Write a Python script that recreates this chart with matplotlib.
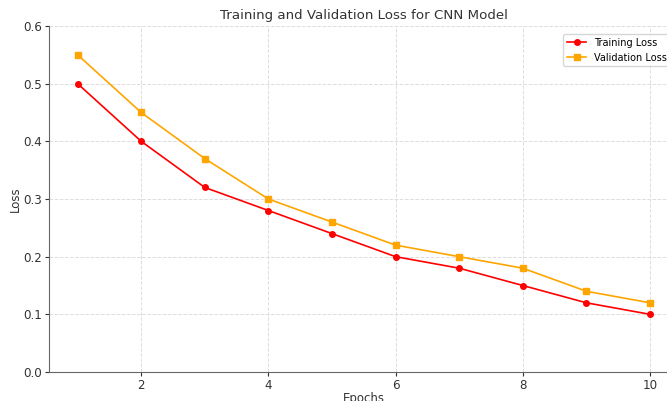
import matplotlib
matplotlib.use("Agg")
import matplotlib.pyplot as plt

epochs = [1, 2, 3, 4, 5, 6, 7, 8, 9, 10]
training_loss = [0.50, 0.40, 0.32, 0.28, 0.24, 0.20, 0.18, 0.15, 0.12, 0.10]
validation_loss = [0.55, 0.45, 0.37, 0.30, 0.26, 0.22, 0.20, 0.18, 0.14, 0.12]

fig = plt.figure(figsize=(6.67, 4.01), dpi=100)
# axes run slightly past the right edge, as in the reference crop
ax = fig.add_axes([49 / 667, 1 - 372 / 401, 629.6 / 667, 346 / 401])

ax.plot(epochs, training_loss, color="red", marker="o", markersize=4,
        linewidth=1.2, label="Training Loss")
ax.plot(epochs, validation_loss, color="orange", marker="s", markersize=4,
        linewidth=1.2, label="Validation Loss")

ax.set_ylim(0, 0.6)
ax.set_xlim(0.55, 10.45)
ax.set_xticks([2, 4, 6, 8, 10])
ax.set_title("Training and Validation Loss for CNN Model", fontsize=9.6,
             color="#333333", pad=5)
ax.set_xlabel("Epochs", fontsize=8.5, color="#333333", labelpad=0)
ax.set_ylabel("Loss", fontsize=8.5, color="#333333", labelpad=1)
ax.tick_params(labelsize=8.6, colors="#333333", length=3, pad=2)
ax.grid(True, linestyle="--", color="#dddddd", linewidth=0.7)
for side in ["top", "right"]:
    ax.spines[side].set_visible(False)
for side in ["left", "bottom"]:
    ax.spines[side].set_color("#666666")
ax.legend(loc="upper right", fontsize=7, borderaxespad=0.8)

fig.savefig("out.png", dpi=100)
